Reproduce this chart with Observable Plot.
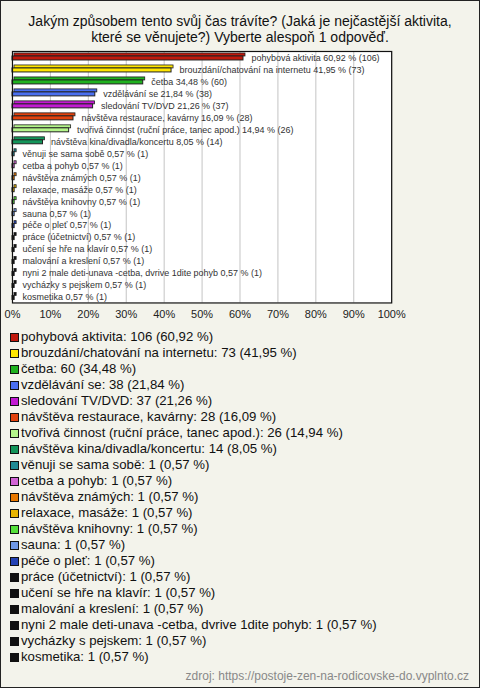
<!DOCTYPE html>
<html>
<head>
<meta charset="utf-8">
<script src="https://cdn.jsdelivr.net/npm/d3@7"></script>
<script src="https://cdn.jsdelivr.net/npm/@observablehq/plot@0.6"></script>
<style>
  html, body { margin: 0; padding: 0; }
  body { width: 480px; height: 688px; font-family: "Liberation Sans", Arial, sans-serif; }
  #page { position: relative; width: 480px; height: 688px; box-sizing: border-box; border: 1px solid #222; background: #f3f3eb; overflow: hidden; }
  #title { position: absolute; top: 12px; left: 0; width: 478px; text-align: center; font-size: 14px; line-height: 16px; color: #111; }
  #chart { position: absolute; top: 44px; left: -1px; }
  #legend { position: absolute; top: 328px; left: 9px; font-size: 13.2px; line-height: 16px; color: #111; }
  .item { white-space: nowrap; display: flex; align-items: center; height: 16px; }
  .sw { display: inline-block; width: 7px; height: 7px; border: 1px solid #111; margin-right: 2px; flex: none; }
  #source { position: absolute; right: 10px; top: 668px; font-size: 12px; color: #888; }
</style>
</head>
<body>
<div id="page">
  <div id="title">Jakým způsobem tento svůj čas trávíte? (Jaká je nejčastější aktivita,<br>které se věnujete?) Vyberte alespoň 1 odpověď.</div>
  <div id="chart"></div>
  <div id="legend"></div>
  <div id="source">zdroj: https://postoje-zen-na-rodicovske-do.vyplnto.cz</div>
</div>
<script>
const categories = [
  "pohybová aktivita",
  "brouzdání/chatování na internetu",
  "četba",
  "vzdělávání se",
  "sledování TV/DVD",
  "návštěva restaurace, kavárny",
  "tvořivá činnost (ruční práce, tanec apod.)",
  "návštěva kina/divadla/koncertu",
  "věnuji se sama sobě",
  "cetba a pohyb",
  "návštěva známých",
  "relaxace, masáže",
  "návštěva knihovny",
  "sauna",
  "péče o pleť",
  "práce (účetnictví)",
  "učení se hře na klavír",
  "malování a kreslení",
  "nyni 2 male deti-unava -cetba, dvrive 1dite pohyb",
  "vycházky s pejskem",
  "kosmetika"
];
const counts = [106, 73, 60, 38, 37, 28, 26, 14, 1, 1, 1, 1, 1, 1, 1, 1, 1, 1, 1, 1, 1];
const percents = [60.92, 41.95, 34.48, 21.84, 21.26, 16.09, 14.94, 8.05, 0.57, 0.57, 0.57, 0.57, 0.57, 0.57, 0.57, 0.57, 0.57, 0.57, 0.57, 0.57, 0.57];
const colors = [
  "#c0180c", "#ffe600", "#1fb21f", "#4a6ff0", "#c21ad2", "#e2420e", "#b4f58a", "#13955a",
  "#1f8a95", "#d264d6", "#e87800", "#e6b400", "#55e03a", "#6f98e6", "#2442b4",
  "#111111", "#111111", "#111111", "#111111", "#111111", "#111111"
];
const ticks = [0, 10, 20, 30, 40, 50, 60, 70, 80, 90, 100];

const fmt = v => v.toFixed(2).replace(".", ",");
const rows = categories.map((c, i) => ({name: c, count: counts[i], pct: percents[i], color: colors[i]}));

const chart = Plot.plot({
  width: 480,
  height: 282,
  marginLeft: 12,
  marginRight: 88,
  marginTop: 6,
  marginBottom: 24,
  style: {background: "transparent", fontFamily: "Liberation Sans, Arial, sans-serif"},
  x: {domain: [0, 100], axis: null},
  y: {domain: categories, axis: null, padding: 0},
  color: {type: "identity"},
  marks: [
    Plot.frame({fill: "white", stroke: "none"}),
    Plot.ruleX(ticks.slice(1), {stroke: "#c4c4c4", strokeWidth: 1}),
    Plot.barX(rows, {x: "pct", y: "name", fill: "color", stroke: "#222", strokeWidth: 0.8, insetTop: 3.5, insetBottom: 5.5, dx: 2, dy: -1.5}),
    Plot.barX(rows, {x: "pct", y: "name", fill: "color", stroke: "#222", strokeWidth: 1, insetTop: 5, insetBottom: 3}),
    Plot.text(rows, {x: "pct", y: "name", text: d => `${d.name} ${fmt(d.pct)} % (${d.count})`, textAnchor: "start", dx: 8, dy: 0.5, fontSize: 9, fill: "#333"}),
    Plot.text(ticks, {x: d => d, frameAnchor: "bottom", dy: 15, text: d => d + "%", fontSize: 11, fill: "#222"}),
    Plot.frame({stroke: "#111", strokeWidth: 1.2})
  ]
});
document.getElementById("chart").appendChild(chart);

const legend = document.getElementById("legend");
rows.forEach(d => {
  const div = document.createElement("div");
  div.className = "item";
  const sw = document.createElement("span");
  sw.className = "sw";
  sw.style.background = d.color;
  div.appendChild(sw);
  div.appendChild(document.createTextNode(`${d.name}: ${d.count} (${fmt(d.pct)} %)`));
  legend.appendChild(div);
});
</script>
</body>
</html>
